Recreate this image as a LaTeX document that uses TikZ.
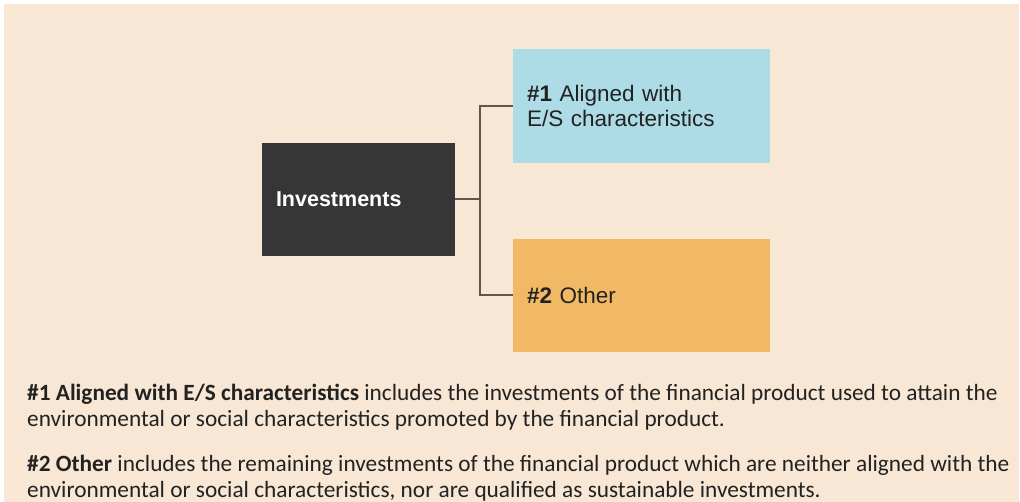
\documentclass[tikz,border=0pt]{standalone}
\usepackage{fontspec}
\setmainfont{Carlito}
\newfontfamily\boxfont{Liberation Sans}
\definecolor{bg}{HTML}{F9E7D5}
\definecolor{darkbox}{HTML}{363636}
\definecolor{bluebox}{HTML}{ADDCE6}
\definecolor{orangebox}{HTML}{F2B965}
\definecolor{linecol}{HTML}{5F5650}
\definecolor{txt}{HTML}{222222}
\tikzset{
  box/.style={draw=none, inner xsep=14pt, align=left, text width=#1},
  conn/.style={draw=linecol, line width=2pt},
  note/.style={anchor=base west, inner sep=0pt, text=txt, font=\fontsize{23.3}{26}\selectfont}
}
\begin{document}
\begin{tikzpicture}[x=1pt,y=-1pt]
\useasboundingbox (0,0) rectangle (1020,502);
\fill[bg] (4,4) rectangle (1019,502);
\node[box=165pt, fill=darkbox, minimum width=193pt, minimum height=113pt, text=white, font=\boxfont\bfseries\fontsize{21.5}{25}\selectfont] (inv) at (358.5,199.5) {Investments};
\node[box=229pt, fill=bluebox, minimum width=257pt, minimum height=114pt, text=txt, font=\boxfont\fontsize{22.5}{25}\selectfont] (al) at (641.5,106) {\textbf{\#1} Aligned with\\E/S characteristics};
\node[box=229pt, fill=orangebox, minimum width=257pt, minimum height=113pt, text=txt, font=\boxfont\fontsize{22.5}{25}\selectfont] (ot) at (641.5,295.5) {\textbf{\#2} Other};
\coordinate (j) at (480,199.5);
\draw[conn] (inv.east) -- (j);
\draw[conn] (al.west) -| (j) |- (ot.west);
\node[note] (n1) at (27,401) {\textbf{\#1 Aligned with E/S characteristics} includes the investments of the financial product used to attain the};
\node[note] (n2) at (27,427) {environmental or social characteristics promoted by the financial product.};
\node[note] (n3) at (27,471) {\textbf{\#2 Other} includes the remaining investments of the financial product which are neither aligned with the};
\node[note] (n4) at (27,497) {environmental or social characteristics, nor are qualified as sustainable investments.};
\end{tikzpicture}
\end{document}
